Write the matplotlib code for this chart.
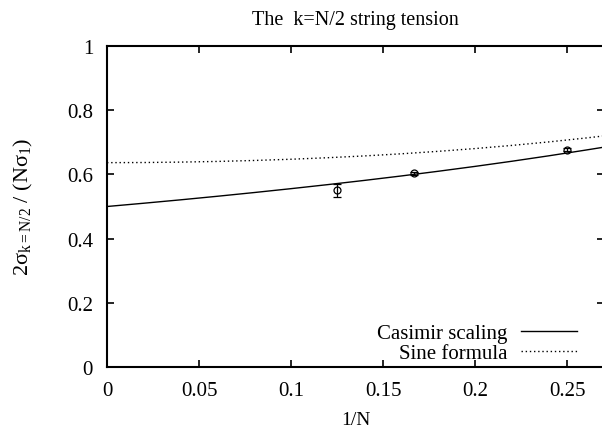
import matplotlib
matplotlib.use("Agg")
import matplotlib.pyplot as plt

plt.rcParams['font.family'] = ['Liberation Serif', 'DejaVu Serif']
plt.rcParams['mathtext.fontset'] = 'custom'
plt.rcParams['mathtext.rm'] = 'Liberation Serif'
plt.rcParams['mathtext.it'] = 'Liberation Serif'

# curves
curve_x = [0, 0.02, 0.04, 0.06, 0.08, 0.10, 0.12, 0.14, 0.16, 0.18, 0.20, 0.22, 0.24, 0.26, 0.27]
casimir = [0.5, 0.5102, 0.5208, 0.5319, 0.5435, 0.5556, 0.5682, 0.5814, 0.5952,
           0.6098, 0.625, 0.6410, 0.6579, 0.6757, 0.6849]
sine = [0.6366, 0.6370, 0.6383, 0.6404, 0.6434, 0.6472, 0.6520, 0.6576, 0.6642,
        0.6719, 0.6805, 0.6903, 0.7012, 0.7133, 0.7199]

# lattice points
inv_n = [1/8, 1/6, 1/4]
ratio = [0.550, 0.603, 0.677]
ratio_err = [0.02, 0.006, 0.005]

fig = plt.figure(figsize=(6.02, 4.31), dpi=100)
ax = fig.add_axes([107/602, 63/431, 497/602, 321/431])

ax.plot(curve_x, casimir, color='black', lw=1.0, label='Casimir scaling')
ax.plot(curve_x, sine, color='black', lw=1.0, ls=(0, (1, 2)), label='Sine formula')
ax.errorbar(inv_n, ratio, yerr=ratio_err, fmt='o', mfc='none', mec='black',
            ms=5, mew=0.9, ecolor='black', elinewidth=0.9, capsize=3, capthick=0.9)

ax.set_xlim(0, 0.27)
ax.set_ylim(0, 1)
ax.set_xticks([0, 0.05, 0.1, 0.15, 0.2, 0.25])
ax.set_xticklabels(['0', '0.05', '0.1', '0.15', '0.2', '0.25'])
ax.set_yticks([0, 0.2, 0.4, 0.6, 0.8, 1])
ax.set_yticklabels(['0', '0.2', '0.4', '0.6', '0.8', '1'])
ax.tick_params(direction='in', length=5, width=1.2, top=True, right=True,
               labelsize=15, pad=10)
for s in ax.spines.values():
    s.set_linewidth(1.5)

ax.set_title('The  k=N/2 string tension', fontsize=14.5, pad=16)
ax.set_xlabel('1/N', fontsize=14, labelpad=8)
ax.set_ylabel(r'2$\sigma_{\mathrm{k=N/2}}$ / (N$\sigma_1$)', fontsize=16, labelpad=23)

ax.legend(loc='lower right', bbox_to_anchor=(0.975, -0.033), frameon=False,
          markerfirst=False, fontsize=15, handlelength=2.7, handletextpad=0.65,
          labelspacing=0.0, borderaxespad=0.3)

fig.savefig('out.png', dpi=100)
